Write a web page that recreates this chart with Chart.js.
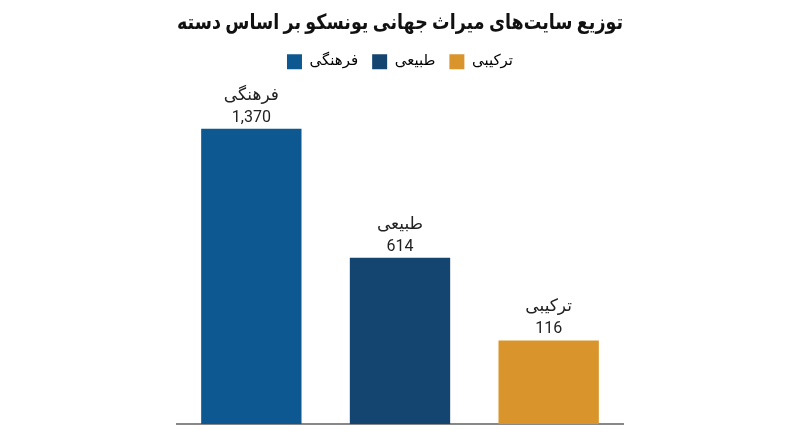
<!DOCTYPE html>
<html lang="fa">
<head>
<meta charset="utf-8">
<script src="https://cdn.jsdelivr.net/npm/chart.js@4"></script>
<style>
  html, body { margin: 0; padding: 0; background: #fff; }
  #wrap { width: 800px; height: 447px; }
</style>
</head>
<body>
<div id="wrap"><canvas id="chart" width="800" height="447"></canvas></div>
<script>
// === Data ===
const categories = ['فرهنگی', 'طبیعی', 'ترکیبی'];
const siteCounts = [1370, 614, 116];        // numbers printed above bars
const barHeights = [1370, 771, 388];        // drawn bar heights (not to scale in the original)
const barColors = ['#0e5891', '#144571', '#d9952b'];
const titleText = 'توزیع سایت\u200cهای میراث جهانی یونسکو بر اساس دسته';

const FONT = "Roboto, 'DejaVu Sans', sans-serif";

// labels above each bar: category name + count
const barLabels = {
  id: 'barLabels',
  afterDatasetsDraw(chart) {
    const ctx = chart.ctx;
    const meta = chart.getDatasetMeta(0);
    ctx.save();
    ctx.textAlign = 'center';
    ctx.textBaseline = 'alphabetic';
    ctx.fillStyle = '#222';
    meta.data.forEach((bar, i) => {
      ctx.font = '16px ' + FONT;
      ctx.fillText(siteCounts[i].toLocaleString('en-US'), bar.x, bar.y - 7);
      ctx.font = '17px ' + FONT;
      ctx.fillText(categories[i], bar.x, bar.y - 29);
    });
    ctx.restore();
  }
};

new Chart(document.getElementById('chart'), {
  type: 'bar',
  data: {
    labels: categories,
    datasets: [{
      data: barHeights,
      backgroundColor: barColors,
      barPercentage: 0.9,
      categoryPercentage: 0.75
    }]
  },
  options: {
    responsive: false,
    animation: false,
    layout: { padding: { left: 177, right: 177, bottom: 15 } },
    plugins: {
      title: {
        display: true,
        text: titleText,
        color: '#111',
        font: { family: FONT, size: 21, weight: 'bold' },
        padding: { top: 11, bottom: 4 }
      },
      legend: {
        display: true,
        position: 'top',
        labels: {
          boxWidth: 15,
          boxHeight: 15,
          padding: 14,
          color: '#333',
          font: { family: FONT, size: 15 },
          generateLabels: chart => categories.map((c, i) => ({
            text: c,
            fillStyle: barColors[i],
            strokeStyle: barColors[i],
            lineWidth: 0,
            index: i
          }))
        }
      },
      tooltip: { enabled: false }
    },
    scales: {
      x: {
        grid: { display: false },
        ticks: { display: false },
        border: { display: true, color: '#888', width: 2 }
      },
      y: {
        display: false,
        min: 0,
        max: 1600
      }
    }
  },
  plugins: [barLabels]
});
</script>
</body>
</html>
